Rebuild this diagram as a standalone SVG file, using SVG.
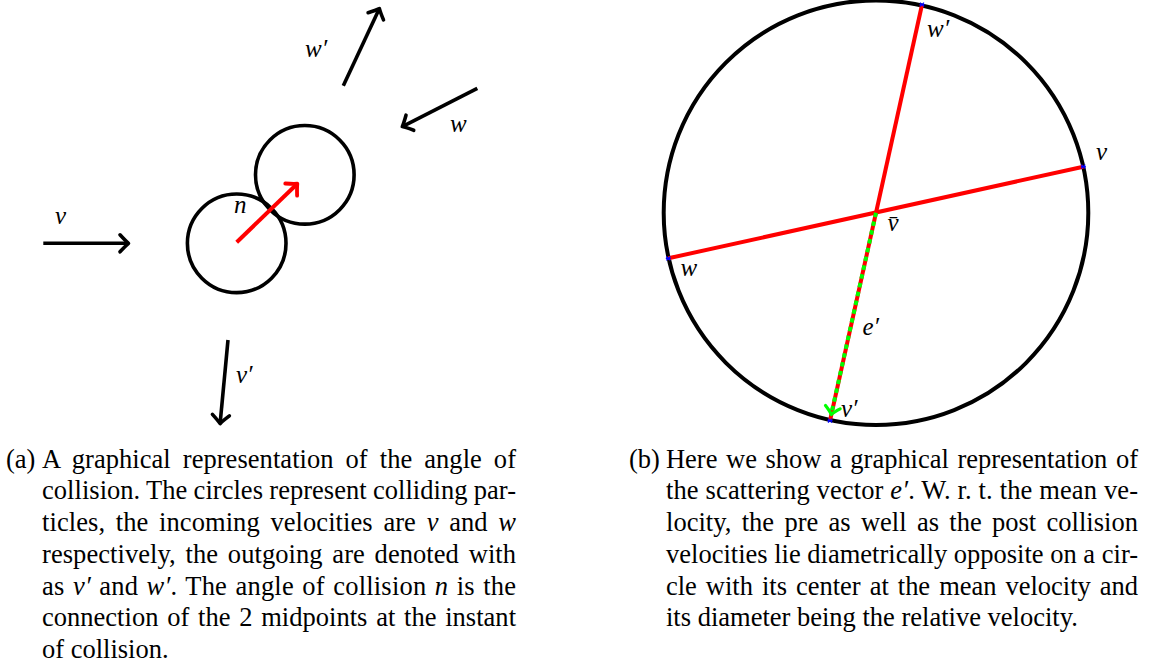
<svg xmlns="http://www.w3.org/2000/svg" width="1153" height="666" viewBox="0 0 1153 666">
<style>
.lbl{font-family:"Liberation Serif","DejaVu Serif",serif;font-style:italic;font-size:25px;fill:#000}
.cap{font-family:"Liberation Serif","Times New Roman",serif;font-size:26.5px;fill:#000}
.it{font-style:italic}
.blk{stroke:#000;stroke-width:3.6;fill:none}
.red{stroke:#ff0000;stroke-width:4;fill:none}
.dot{stroke:#0000ff;stroke-width:1.2}
</style>
<defs>
<marker id="hk" viewBox="-14 -12 18 24" markerWidth="18" markerHeight="24" refX="0" refY="0" orient="auto" markerUnits="userSpaceOnUse" overflow="visible">
<path d="M -8.5 -8.5 Q -3 -2.5 0 0 Q -3 2.5 -8.5 8.5" fill="none" stroke="#000" stroke-width="3.6" stroke-linecap="round" stroke-linejoin="round"/>
</marker>
<marker id="hr" viewBox="-14 -12 18 24" markerWidth="18" markerHeight="24" refX="0" refY="0" orient="auto" markerUnits="userSpaceOnUse" overflow="visible">
<path d="M -8.5 -8.5 Q -3 -2.5 0 0 Q -3 2.5 -8.5 8.5" fill="none" stroke="#ff0000" stroke-width="3.8" stroke-linecap="round" stroke-linejoin="round"/>
</marker>
<marker id="hg" viewBox="-14 -12 18 24" markerWidth="18" markerHeight="24" refX="0" refY="0" orient="auto" markerUnits="userSpaceOnUse" overflow="visible">
<path d="M -7.5 -7.5 Q -3 -2 0 0 Q -3 2 -7.5 7.5" fill="none" stroke="#00ff00" stroke-width="3.2" stroke-linecap="round" stroke-linejoin="round"/>
</marker>
<path id="bx" d="M -2 -2 L 2 2 M -2 2 L 2 -2 M -2.5 0 L 2.5 0"/>
</defs>

<!-- Panel (a) -->
<g id="particle-left">
<circle class="blk" cx="236.7" cy="243.3" r="49.3"/>
</g>
<g id="particle-right">
<circle class="blk" cx="304.8" cy="174.8" r="49.3"/>
</g>
<g id="connectors-a">
<line class="blk" x1="43.3" y1="243.3" x2="128.5" y2="243.3" marker-end="url(#hk)"/>
<line class="blk" x1="477.3" y1="88.3" x2="402.3" y2="126.6" marker-end="url(#hk)"/>
<line class="blk" x1="343.3" y1="85.7" x2="379.4" y2="8.6" marker-end="url(#hk)"/>
<line class="blk" x1="228" y1="340" x2="220.1" y2="423.6" marker-end="url(#hk)"/>
<line class="red" x1="236.7" y1="242.3" x2="297.3" y2="183.7" marker-end="url(#hr)"/>
</g>
<g id="labels-a">
<text class="lbl" x="55" y="224">v</text>
<text class="lbl" x="450" y="131.7">w</text>
<text class="lbl" x="305" y="57">w′</text>
<text class="lbl" x="234" y="213.3">n</text>
<text class="lbl" x="236" y="383.3">v′</text>
</g>

<!-- Panel (b) -->
<g id="velocity-circle">
<circle cx="876" cy="212.7" r="212.3" fill="none" stroke="#000" stroke-width="4"/>
</g>
<g id="connectors-b">
<line class="red" x1="668.3" y1="258.3" x2="1083.3" y2="166.7"/>
<line class="red" x1="922" y1="4.7" x2="876" y2="212.7"/>
<line class="red" x1="876" y1="212.7" x2="830" y2="420.7"/>
<line x1="876" y1="212.7" x2="831.2" y2="414.5" stroke="#00ff00" stroke-width="4" stroke-dasharray="4.5 4.5" marker-end="url(#hg)"/>
</g>
<g id="endpoints" class="dot">
<use href="#bx" x="922" y="4.7"/>
<use href="#bx" x="1083.3" y="166.7"/>
<use href="#bx" x="668.3" y="258.3"/>
<use href="#bx" x="830" y="420.7"/>
</g>
<g id="labels-b">
<text class="lbl" x="927" y="36.7">w′</text>
<text class="lbl" x="1096" y="160">v</text>
<text class="lbl" x="887.5" y="230.7">v̄</text>
<text class="lbl" x="680.5" y="276">w</text>
<text class="lbl" x="862.5" y="335">e′</text>
<text class="lbl" x="841" y="417.3">v′</text>
</g>

<!-- Caption (a) -->
<g id="caption-a" class="cap">
<text x="6" y="467.7">(a)</text>
<text x="42" y="467.7" word-spacing="5.3" textLength="474" lengthAdjust="spacing">A graphical representation of the angle of</text>
<text x="42" y="499.4" word-spacing="-0.4" textLength="474" lengthAdjust="spacing">collision. The circles represent colliding par-</text>
<text x="42" y="531.1" word-spacing="4" textLength="474" lengthAdjust="spacing">ticles, the incoming velocities are <tspan class="it">v</tspan> and <tspan class="it">w</tspan></text>
<text x="42" y="562.8" word-spacing="3.1" textLength="474" lengthAdjust="spacing">respectively, the outgoing are denoted with</text>
<text x="42" y="594.5" word-spacing="1.6" textLength="474" lengthAdjust="spacing">as <tspan class="it">v′</tspan> and <tspan class="it">w′</tspan>. The angle of collision <tspan class="it">n</tspan> is the</text>
<text x="42" y="626.2" word-spacing="2.1" textLength="474" lengthAdjust="spacing">connection of the 2 midpoints at the instant</text>
<text x="42" y="657.9">of collision.</text>
</g>

<!-- Caption (b) -->
<g id="caption-b" class="cap">
<text x="629" y="467.7">(b)</text>
<text x="666" y="467.7" word-spacing="2" textLength="472" lengthAdjust="spacing">Here we show a graphical representation of</text>
<text x="666" y="499.4" word-spacing="0.1" textLength="472" lengthAdjust="spacing">the scattering vector <tspan class="it">e′</tspan>. W. r. t. the mean ve-</text>
<text x="666" y="531.1" word-spacing="3.6" textLength="472" lengthAdjust="spacing">locity, the pre as well as the post collision</text>
<text x="666" y="562.8" word-spacing="0" textLength="472" lengthAdjust="spacing">velocities lie diametrically opposite on a cir-</text>
<text x="666" y="594.5" word-spacing="2.4" textLength="472" lengthAdjust="spacing">cle with its center at the mean velocity and</text>
<text x="666" y="626.2">its diameter being the relative velocity.</text>
</g>
</svg>
